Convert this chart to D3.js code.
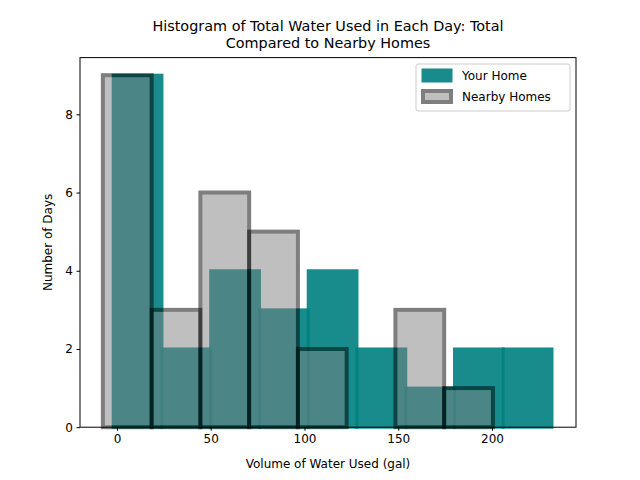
<!DOCTYPE html>
<html><head><meta charset="utf-8">
<script src="https://cdn.jsdelivr.net/npm/d3@7"></script>
<style>body{margin:0;background:#fff}svg{font-family:"DejaVu Sans",sans-serif}</style>
</head><body>
<script>
// histogram bins
const homeEdges = [-2, 24, 50, 76, 102, 128, 154, 180, 206, 232];
const homeCounts = [9, 2, 4, 3, 4, 2, 1, 2, 2];
const nearEdges = [-7.5, 18.5, 44.5, 70.5, 96.5, 122.5, 148.5, 174.5, 200.5, 226.5];
const nearCounts = [9, 3, 6, 5, 2, 0, 3, 1, 0];
const xTicks = [0, 50, 100, 150, 200];
const yTicks = [0, 2, 4, 6, 8];

const W = 640, H = 480, m = {l: 80, r: 64, t: 57.6, b: 52.8};
const svg = d3.select("body").append("svg").attr("width", W).attr("height", H);
const x = d3.scaleLinear().domain([-19.7, 244.8]).range([m.l, W - m.r]);
const y = d3.scaleLinear().domain([0, 9.45]).range([H - m.b, m.t]);

const bins = (edges, counts) => counts.map((c, i) => ({x0: edges[i], x1: edges[i + 1], c}));

svg.append("g").selectAll("rect").data(bins(homeEdges, homeCounts)).join("rect")
  .attr("x", d => x(d.x0)).attr("width", d => x(d.x1) - x(d.x0))
  .attr("y", d => y(d.c)).attr("height", d => y(0) - y(d.c))
  .attr("fill", "teal").attr("stroke", "teal").attr("stroke-width", 3).attr("opacity", 0.9);

svg.append("g").selectAll("rect").data(bins(nearEdges, nearCounts)).join("rect")
  .attr("x", d => x(d.x0)).attr("width", d => x(d.x1) - x(d.x0))
  .attr("y", d => y(d.c)).attr("height", d => y(0) - y(d.c))
  .attr("fill", "gray").attr("stroke", "black").attr("stroke-width", 4).attr("opacity", 0.5);

svg.append("rect").attr("x", m.l).attr("y", m.t).attr("width", W - m.l - m.r).attr("height", H - m.t - m.b)
  .attr("fill", "none").attr("stroke", "black").attr("stroke-width", 1);

const xa = svg.append("g").attr("transform", `translate(0,${H - m.b})`)
  .call(d3.axisBottom(x).tickValues(xTicks).tickSize(3.5).tickPadding(3.5));
const ya = svg.append("g").attr("transform", `translate(${m.l},0)`)
  .call(d3.axisLeft(y).tickValues(yTicks).tickSize(3.5).tickPadding(3.5));
[xa, ya].forEach(a => { a.select(".domain").remove(); a.selectAll("text").attr("font-size", 12).attr("font-family", "DejaVu Sans"); });

svg.append("text").attr("x", (m.l + W - m.r) / 2).attr("y", 468).attr("text-anchor", "middle")
  .attr("font-size", 12).text("Volume of Water Used (gal)");
svg.append("text").attr("transform", `translate(52,${(m.t + H - m.b) / 2}) rotate(-90)`).attr("text-anchor", "middle")
  .attr("font-size", 12).text("Number of Days");
const title = ["Histogram of Total Water Used in Each Day: Total", "Compared to Nearby Homes"];
svg.append("g").selectAll("text").data(title).join("text")
  .attr("x", (m.l + W - m.r) / 2).attr("y", (d, i) => 31 + i * 17).attr("text-anchor", "middle")
  .attr("font-size", 14.4).text(d => d);

const lg = svg.append("g").attr("transform", "translate(416,64)");
lg.append("rect").attr("width", 154).attr("height", 47).attr("rx", 2).attr("fill", "white")
  .attr("fill-opacity", 0.8).attr("stroke", "#ccc");
const items = [
  {name: "Your Home", fill: "teal", stroke: "teal", sw: 3, op: 0.9},
  {name: "Nearby Homes", fill: "gray", stroke: "black", sw: 4, op: 0.5}];
items.forEach((it, i) => {
  lg.append("rect").attr("x", 7).attr("y", 6 + i * 21).attr("width", 28).attr("height", 11)
    .attr("fill", it.fill).attr("stroke", it.stroke).attr("stroke-width", it.sw).attr("opacity", it.op);
  lg.append("text").attr("x", 46).attr("y", 16 + i * 21).attr("font-size", 12).text(it.name);
});
</script>
</body></html>
